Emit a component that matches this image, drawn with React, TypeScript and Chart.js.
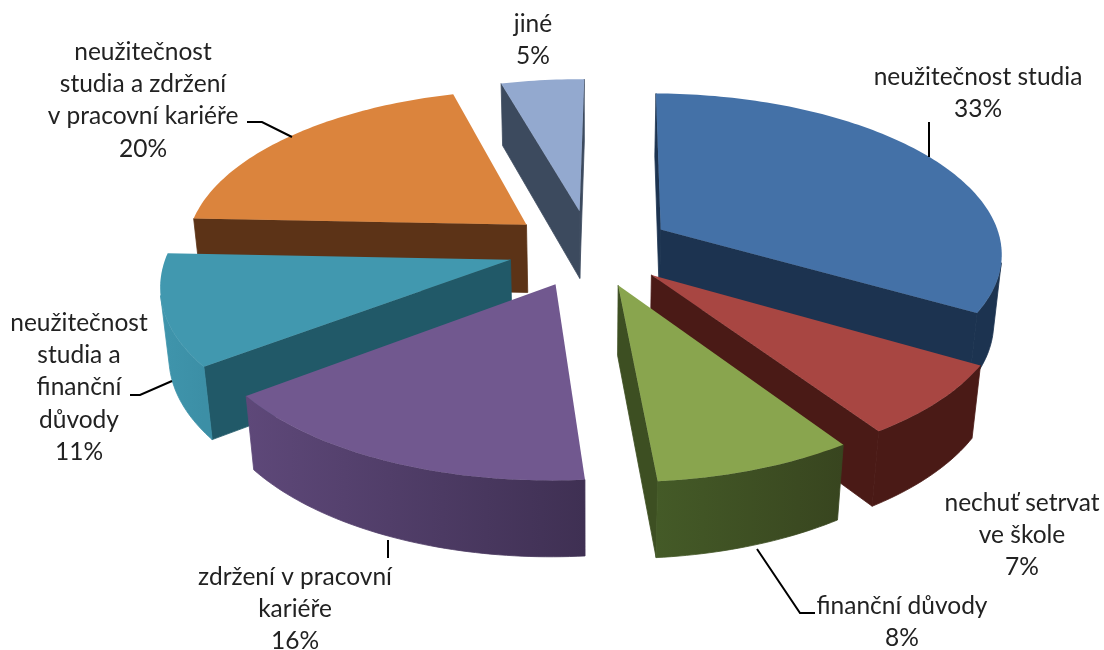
import React, { useEffect, useRef } from "react";
import { Chart, registerables } from "chart.js";

Chart.register(...registerables);

// ---- data ----
const categories = [
  ["neužitečnost studia"],
  ["nechuť setrvat", "ve škole"],
  ["finanční důvody"],
  ["zdržení v pracovní", "kariéře"],
  ["neužitečnost", "studia a", "finanční", "důvody"],
  ["neužitečnost", "studia a zdržení", "v pracovní kariéře"],
  ["jiné"],
];
const shares = [33.25, 7.2, 8, 16, 11, 20, 4.55];

// ---- styles ----
const topColors = ["#4471A7", "#A84642", "#89A54E", "#71588F", "#4198AF", "#DB843D", "#93A9CF"];
const wallColors = ["#1C3350", "#4A1A16", "#3D4F22", "#5A4375", "#215968", "#5C3317", "#3C4A5E"];
// rim shade at the start and at the end of each slice's arc
const rimStart = ["#1C3350", "#4A1A16", "#38451F", "#3F3053", "#3C8FA6", "#5C3317", "#3C4A5E"];
const rimEnd = ["#1C3350", "#4A1A16", "#445A27", "#5E4879", "#3F95AC", "#5C3317", "#3C4A5E"];
const labelAnchors = [
  [978, 77], [1022, 503], [902, 606], [295, 577], [79, 323], [143, 52], [533, 24],
];
const leaders = [
  [[929, 122], [929, 157]],
  [],
  [[757, 549], [800, 613], [815, 613]],
  [[388, 540], [388, 558]],
  [[172, 381], [140, 395], [130, 395]],
  [[292, 137], [262, 122], [247, 122]],
  [],
];
const LINE_H = 32.2;
const FONT = '24.5px Lato, "Open Sans", sans-serif';

// ---- camera ----
const cam = { cx: 590, cy: 248, a: 159, b: 342, k: 0.135, m: 0.02, h: 70 };
function project(X: number, Y: number, z: number) {
  const w = 1 - cam.k * Y + cam.m * z;
  return [cam.cx + (cam.b * X) / w, cam.cy + (cam.a * Y + cam.h * z) / w];
}
function poly(ctx: CanvasRenderingContext2D, pts: number[][], fill: any, seal = false) {
  ctx.beginPath();
  pts.forEach((p, i) => (i ? ctx.lineTo(p[0], p[1]) : ctx.moveTo(p[0], p[1])));
  ctx.closePath();
  ctx.fillStyle = fill;
  ctx.fill();
  if (seal) {
    ctx.strokeStyle = fill;
    ctx.lineWidth = 0.8;
    ctx.stroke();
  }
}
function area(p: number[][]) {
  let s = 0;
  p.forEach((q, i) => {
    const r = p[(i + 1) % p.length];
    s += q[0] * r[1] - r[0] * q[1];
  });
  return s;
}

const pie3d = {
  id: "pie3d",
  beforeDatasetDraw(chart: any) {
    const ctx: CanvasRenderingContext2D = chart.ctx;
    const arcs = chart.getDatasetMeta(0).data.map((el: any, i: number) => {
      const mid = (el.startAngle + el.endAngle) / 2;
      const e = el.options.offset / el.outerRadius;
      return { i, s: el.startAngle, t: el.endAngle, ox: e * Math.cos(mid), oy: e * Math.sin(mid) };
    });
    arcs.sort((p: any, q: any) => p.oy - q.oy);
    for (const { i, s, t, ox, oy } of arcs) {
      const n = Math.max(8, Math.ceil((t - s) / 0.02));
      const rim: number[][] = [];
      for (let j = 0; j <= n; j++) {
        const ang = s + ((t - s) * j) / n;
        rim.push([ox + Math.cos(ang), oy + Math.sin(ang)]);
      }
      const quad = (P: number[], Q: number[]) => [
        project(P[0], P[1], 0), project(Q[0], Q[1], 0), project(Q[0], Q[1], 1), project(P[0], P[1], 1),
      ];
      const apex = [ox, oy];
      for (const q of [quad(apex, rim[0]), quad(rim[n], apex)]) {
        if (area(q) < 0) poly(ctx, q, wallColors[i], true);
      }
      // visible part of the curved side, filled as one shape with a gradient
      const tops: number[][] = [];
      const bots: number[][] = [];
      for (let j = 0; j < n; j++) {
        const q = quad(rim[j], rim[j + 1]);
        if (area(q) < 0) {
          if (!tops.length) { tops.push(q[0]); bots.push(q[3]); }
          tops.push(q[1]);
          bots.push(q[2]);
        }
      }
      if (tops.length) {
        const g = ctx.createLinearGradient(tops[0][0], 0, tops[tops.length - 1][0], 0);
        g.addColorStop(0, rimStart[i]);
        g.addColorStop(1, rimEnd[i]);
        poly(ctx, [...tops, ...bots.reverse()], g, true);
      }
      poly(ctx, [apex, ...rim].map((p) => project(p[0], p[1], 0)), topColors[i]);
    }
    return false;
  },
  afterDraw(chart: any) {
    const ctx: CanvasRenderingContext2D = chart.ctx;
    ctx.save();
    ctx.strokeStyle = "#000";
    ctx.lineWidth = 2;
    leaders.forEach((l) => {
      if (!l.length) return;
      ctx.beginPath();
      l.forEach((p, i) => (i ? ctx.lineTo(p[0], p[1]) : ctx.moveTo(p[0], p[1])));
      ctx.stroke();
    });
    ctx.fillStyle = "#222";
    ctx.font = FONT;
    ctx.textAlign = "center";
    ctx.textBaseline = "middle";
    categories.forEach((lines, i) => {
      [...lines, Math.round(shares[i]) + "%"].forEach((txt, j) => {
        ctx.fillText(txt, labelAnchors[i][0], labelAnchors[i][1] + j * LINE_H);
      });
    });
    ctx.restore();
  },
};

export default function App() {
  const ref = useRef<HTMLCanvasElement>(null);
  useEffect(() => {
    const chart = new Chart(ref.current!, {
      type: "pie",
      data: {
        labels: categories.map((c) => c.join(" ")),
        datasets: [{ data: shares, backgroundColor: topColors, offset: 70, borderWidth: 0 }],
      },
      options: {
        animation: false,
        responsive: false,
        rotation: 0.68,
        layout: { padding: 0 },
        plugins: { legend: { display: false }, tooltip: { enabled: false } },
      },
      plugins: [pie3d],
    } as any);
    return () => chart.destroy();
  }, []);
  return (
    <canvas
      ref={ref}
      width={1104}
      height={650}
      style={{ position: "absolute", left: 0, top: 0, display: "block", background: "#fff" }}
    />
  );
}
